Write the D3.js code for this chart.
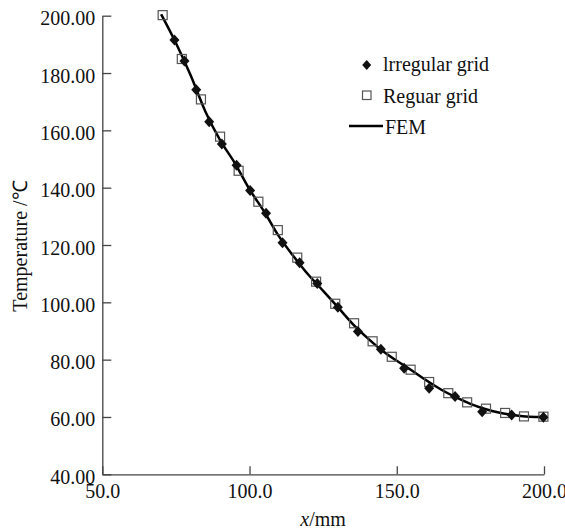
<!DOCTYPE html>
<html><head><meta charset="utf-8">
<script src="https://cdn.jsdelivr.net/npm/d3@7"></script>
<style>body{margin:0;background:#fff}svg{display:block}</style>
</head><body>
<svg id="c" width="565" height="530"></svg>
<script>
// Data
const xTicks = [50, 100, 150, 200];
const yTicks = [40, 60, 80, 100, 120, 140, 160, 180, 200];
const irregularX = [74.5, 77.9, 81.9, 86.3, 90.6, 95.6, 100.2, 105.6, 111.2, 117, 123, 130, 136.8, 144.6, 152.5, 161, 169.8, 179, 189, 199.8];
const irregularT = [191.5, 184.2, 174.2, 163, 155.2, 147.8, 139, 131.1, 120.8, 113.8, 106.6, 98.3, 89.8, 83.6, 77, 70, 67.1, 61.8, 60.7, 59.9];
const regularX = [70.5, 77, 83.5, 90, 96.3, 103, 109.6, 116.2, 122.6, 129.1, 135.5, 141.8, 148.3, 154.7, 161, 167.5, 173.9, 180.3, 186.8, 193.2, 199.8];
const regularT = [200.2, 184.9, 170.8, 157.8, 145.9, 135.1, 125.2, 115.6, 107.2, 99.5, 92.7, 86.4, 81, 76.5, 72.2, 68.3, 65.1, 62.9, 61.4, 60.2, 60.1];
const femX = [70, 75, 80, 85, 90, 95, 100, 105, 110, 115, 120, 125, 130, 135, 140, 145, 150, 155, 160, 165, 170, 175, 180, 185, 190, 195, 200];
const femT = [200.5, 190.5, 179.2, 166.6, 156.6, 148.6, 139.4, 131.6, 123, 116, 109.6, 104, 98.3, 92.5, 87.6, 83.2, 79.6, 76.3, 72.8, 69.6, 66.9, 64.6, 62.8, 61.5, 60.6, 60.1, 60];
const legendLabels = ["lrregular grid", "Reguar grid", "FEM"];

const svg = d3.select("#c");
const font = "'Liberation Serif','Times New Roman',serif";
const x = d3.scaleLinear().domain([50, 200]).range([102.3, 544]);
const y = d3.scaleLinear().domain([40, 200]).range([474.3, 15.7]);
const axisColor = "#444";

// axes
const gx = svg.append("g").attr("transform", `translate(0,${y(40)})`)
  .call(d3.axisBottom(x).tickValues(xTicks).tickFormat(d3.format(".1f")).tickSizeInner(-8).tickSizeOuter(0).tickPadding(10));
const gy = svg.append("g").attr("transform", `translate(${x(50)},0)`)
  .call(d3.axisLeft(y).tickValues(yTicks).tickFormat(d3.format(".2f")).tickSizeInner(-9).tickSizeOuter(0).tickPadding(7));
[gx, gy].forEach(g => {
  g.selectAll("path.domain").attr("stroke", axisColor).attr("stroke-width", 1.3);
  g.selectAll(".tick line").attr("stroke", axisColor).attr("stroke-width", 1.3);
  g.selectAll(".tick text").attr("fill", "#111").style("font-family", font).style("font-size", "20px");
});
gy.selectAll(".tick text").attr("dy", "0.45em");

// axis titles
const xt = svg.append("text").attr("x", (x(50) + x(200)) / 2).attr("y", 526)
  .attr("text-anchor", "middle").style("font-family", font).style("font-size", "20px").attr("fill", "#111");
xt.append("tspan").style("font-style", "italic").text("x");
xt.append("tspan").text("/mm");
svg.append("text").attr("transform", "translate(27,246) rotate(-90)")
  .attr("text-anchor", "middle").style("font-family", font).style("font-size", "20px").attr("fill", "#111")
  .text("Temperature /℃");

// FEM line
const fem = femX.map((v, i) => [v, femT[i]]);
svg.append("path").datum(fem)
  .attr("d", d3.line().x(d => x(d[0])).y(d => y(d[1])).curve(d3.curveMonotoneX))
  .attr("fill", "none").attr("stroke", "#000").attr("stroke-width", 2.5);

// markers
const diamond = "M0,-5.5L5,0L0,5.5L-5,0Z";
const sq = 4.5;
const reg = regularX.map((v, i) => [v, regularT[i]]);
svg.append("g").selectAll("rect").data(reg).join("rect")
  .attr("x", d => x(d[0]) - sq).attr("y", d => y(d[1]) - sq)
  .attr("width", sq * 2).attr("height", sq * 2)
  .attr("fill", "none").attr("stroke", "#555").attr("stroke-width", 1.2);
const irr = irregularX.map((v, i) => [v, irregularT[i]]);
svg.append("g").selectAll("path").data(irr).join("path")
  .attr("transform", d => `translate(${x(d[0])},${y(d[1])})`)
  .attr("d", diamond).attr("fill", "#111");

// legend
const lg = svg.append("g");
lg.append("path").attr("transform", "translate(366.7,65)").attr("d", "M0,-5L4.5,0L0,5L-4.5,0Z").attr("fill", "#111");
lg.append("rect").attr("x", 362.5).attr("y", 91).attr("width", 8.5).attr("height", 8.5)
  .attr("fill", "none").attr("stroke", "#555").attr("stroke-width", 1.2);
lg.append("line").attr("x1", 349).attr("x2", 383).attr("y1", 126).attr("y2", 126)
  .attr("stroke", "#000").attr("stroke-width", 2.5);
const lx = [383, 383, 385], ly = [71, 103, 134];
legendLabels.forEach((t, i) => {
  lg.append("text").attr("x", lx[i]).attr("y", ly[i]).style("font-family", font).style("font-size", "20px")
    .attr("fill", "#111").text(t);
});
</script>
</body></html>
